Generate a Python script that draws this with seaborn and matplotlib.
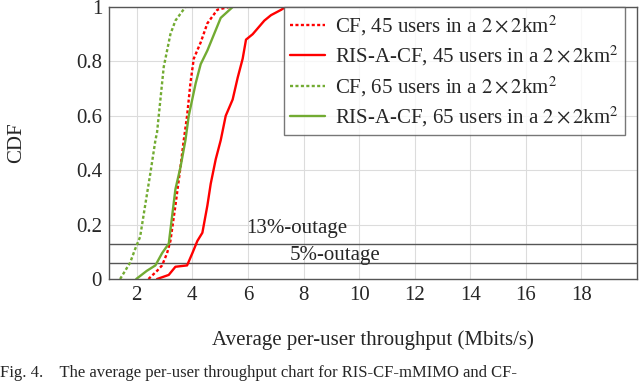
import matplotlib
matplotlib.use('Agg')
import matplotlib.pyplot as plt
import numpy as np
import pandas as pd
import seaborn as sns

cf45_x = [2.42, 2.73, 2.91, 3.09, 3.21, 3.39, 3.57, 3.69, 3.81, 3.93, 4.05, 4.30, 4.54, 4.90, 5.32]
cf45_y = [0.00, 0.03, 0.05, 0.095, 0.14, 0.27, 0.41, 0.51, 0.60, 0.72, 0.81, 0.87, 0.94, 0.99, 1.00]

ris45_x = [2.73, 3.15, 3.39, 3.81, 4.00, 4.18, 4.36, 4.54, 4.66, 4.84, 5.02, 5.20, 5.45, 5.63, 5.81, 5.93, 6.17, 6.59, 6.83, 7.20, 7.35]
ris45_y = [0.00, 0.015, 0.045, 0.05, 0.095, 0.14, 0.17, 0.27, 0.35, 0.44, 0.51, 0.60, 0.66, 0.74, 0.81, 0.88, 0.90, 0.95, 0.97, 0.99, 1.00]

cf65_x = [1.40, 1.76, 1.94, 2.12, 2.30, 2.49, 2.67, 2.73, 2.85, 2.97, 3.09, 3.21, 3.39, 3.75]
cf65_y = [0.00, 0.06, 0.11, 0.155, 0.27, 0.39, 0.51, 0.54, 0.66, 0.78, 0.84, 0.90, 0.95, 1.00]

ris65_x = [1.98, 2.36, 2.67, 2.91, 3.15, 3.27, 3.39, 3.57, 3.75, 3.87, 4.12, 4.30, 4.54, 4.78, 5.02, 5.45]
ris65_y = [0.00, 0.03, 0.05, 0.095, 0.13, 0.23, 0.33, 0.41, 0.51, 0.60, 0.72, 0.79, 0.84, 0.90, 0.96, 1.00]

labels = [r'CF, 45 users in a $2\times2$km$^2$',
          r'RIS-A-CF, 45 users in a $2\times2$km$^2$',
          r'CF, 65 users in a $2\times2$km$^2$',
          r'RIS-A-CF, 65 users in a $2\times2$km$^2$']
outage_levels = [0.13, 0.06]
outage_labels = ['13%-outage', '5%-outage']

sns.set_style('white')
plt.rcParams['font.family'] = ['Liberation Serif', 'DejaVu Serif']
plt.rcParams['mathtext.fontset'] = 'stix'

red = '#ff0000'
green = '#72ab32'
dotted = (0, (1.3, 1.0))
fs = 15

fig = plt.figure(figsize=(6.4, 3.82), dpi=100)
ax = fig.add_axes([109/640, 1 - 279/382, 528/640, 272/382])

series = [(cf45_x, cf45_y, red, dotted),
          (ris45_x, ris45_y, red, '-'),
          (cf65_x, cf65_y, green, dotted),
          (ris65_x, ris65_y, green, '-')]
for (xs, ys, c, ls), lab in zip(series, labels):
    sns.lineplot(x=xs, y=ys, ax=ax, color=c, linestyle=ls, linewidth=1.7,
                 sort=False, estimator=None, label=lab)

for lvl in outage_levels:
    ax.axhline(lvl, color='#555555', linewidth=1.0, zorder=1)
ax.text(7.75, 0.185, outage_labels[0], fontsize=fs, ha='center', va='center')
ax.text(9.15, 0.088, outage_labels[1], fontsize=fs, ha='center', va='center')

ax.set_xlim(1, 20)
ax.set_ylim(0, 1)
ax.set_xticks(np.arange(2, 20, 2))
ax.set_yticks([0, 0.2, 0.4, 0.6, 0.8, 1])
ax.set_yticklabels(['0', '0.2', '0.4', '0.6', '0.8', '1'])
ax.tick_params(labelsize=fs, length=0, pad=5)
ax.grid(True, color='#dcdcdc', linewidth=0.8)
for s in ax.spines.values():
    s.set_color('#555555')
    s.set_linewidth(1.0)

ax.set_xlabel('Average per-user throughput (Mbits/s)', fontsize=fs, labelpad=18)
ax.set_ylabel('CDF', fontsize=fs, labelpad=36)

leg = ax.legend(loc='upper right', bbox_to_anchor=(0.977, 1.0), borderaxespad=0,
                fontsize=fs, frameon=True, fancybox=False, handlelength=1.7,
                handletextpad=0.45, labelspacing=0.3, borderpad=0.3)
leg.get_frame().set_edgecolor('#555555')
leg.get_frame().set_linewidth(1.0)

fig.text(0.0, 0.003, 'Fig. 4.    The average per-user throughput chart for RIS-CF-mMIMO and CF-',
         fontsize=12, ha='left', va='bottom')

plt.savefig('out.png', dpi=100)
